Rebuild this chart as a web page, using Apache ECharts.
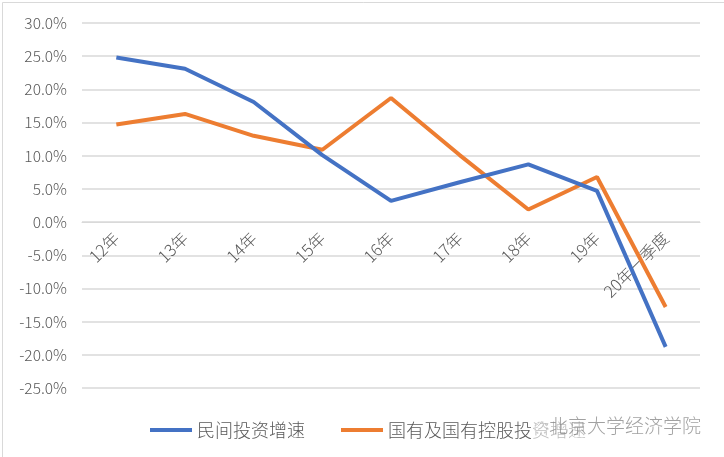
<!DOCTYPE html>
<html><head><meta charset="utf-8">
<script src="https://cdn.jsdelivr.net/npm/echarts@6/dist/echarts.min.js"></script>
<style>html,body{margin:0;padding:0;background:#fff}#c{width:724px;height:457px}</style>
</head><body><div id="c"></div>
<script>
const categories = ['12年','13年','14年','15年','16年','17年','18年','19年','20年一季度'];
const privateInv = [24.8, 23.1, 18.1, 10.1, 3.2, 6.0, 8.7, 4.7, -18.8];
const stateInv = [14.7, 16.3, 13.0, 10.9, 18.7, 10.1, 1.9, 6.8, -12.8];
const seriesNames = ['民间投资增速', '国有及国有控股投资增速'];
const watermark = '北京大学经济学院';
const yMin = -25, yMax = 30, yStep = 5;
const FONT = '"Noto Sans CJK SC", "Noto Sans", sans-serif';
const W = 724, H = 457, G = {left:82, right:24, top:23, bottom:69};
const plotH = H - G.top - G.bottom;
const zeroOffset = -plotH * (0 - yMin) / (yMax - yMin);
const chart = echarts.init(document.getElementById('c'), null, {renderer:'canvas'});
chart.setOption({
  animation:false,
  backgroundColor:'#fff',
  textStyle:{fontFamily:FONT},
  grid:{left:G.left, right:G.right, top:G.top, bottom:G.bottom, containLabel:false},
  legend:{
    left:145, top:416, itemGap:36, itemWidth:42, itemHeight:4, itemStyle:{borderWidth:0},
    textStyle:{fontSize:18, color:'#595959', fontFamily:FONT, fontWeight:300},
    data:[{name:seriesNames[0], icon:'rect'},{name:seriesNames[1], icon:'rect'}]
  },
  xAxis:{
    type:'category', data:categories, boundaryGap:true, offset:zeroOffset,
    axisLine:{onZero:false, lineStyle:{color:'#d9d9d9', width:1}},
    axisTick:{show:false},
    axisLabel:{rotate:45, fontSize:16.5, color:'#595959', margin:13, fontFamily:FONT, fontWeight:300, interval:0}
  },
  yAxis:{
    type:'value', min:yMin, max:yMax, interval:yStep,
    axisLine:{show:false}, axisTick:{show:false},
    splitLine:{lineStyle:{color:'#d9d9d9', width:1.5}},
    axisLabel:{formatter:v=>v.toFixed(1)+'%', fontSize:15.5, color:'#595959', margin:15, fontFamily:FONT, fontWeight:300}
  },
  series:[
    {name:seriesNames[0], type:'line', data:privateInv, symbol:'none', lineStyle:{width:4, color:'#4472C4'}, itemStyle:{color:'#4472C4'}, z:3},
    {name:seriesNames[1], type:'line', data:stateInv, symbol:'none', lineStyle:{width:4, color:'#ED7D31'}, itemStyle:{color:'#ED7D31'}, z:2}
  ],
  graphic:[
    {type:'rect', left:0, top:0, shape:{x:0.5,y:0.5,width:723,height:456}, style:{fill:'none', stroke:'#d9d9d9', lineWidth:1}, silent:true, z:0},
    {type:'rect', shape:{x:532, y:414, width:172, height:28}, style:{fill:'rgba(255,255,255,0.6)'}, z:100, silent:true},
    {type:'text', x:549, y:416, style:{text:watermark, font:'300 19px "Noto Sans CJK SC"', fill:'rgba(130,130,130,0.75)'}, z:101, silent:true},
    {type:'circle', shape:{cx:541, cy:428, r:6}, style:{fill:'none', stroke:'rgba(180,180,180,0.7)', lineWidth:1.5, lineDash:[2,2]}, z:101, silent:true}
  ]
});
</script></body></html>
